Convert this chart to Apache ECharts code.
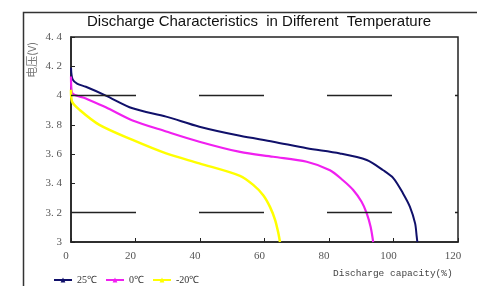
<!DOCTYPE html>
<html>
<head>
<meta charset="utf-8">
<script src="https://cdn.jsdelivr.net/npm/echarts@6/dist/echarts.min.js"></script>
<style>
    html, body { margin: 0; padding: 0; background: #fff; }
    #chart { width: 477px; height: 286px; }
</style>
</head>
<body>
<div id="chart"></div>
<script>
"use strict";

var xTicks = [0, 20, 40, 60, 80, 100, 120];
var yTicks = [3, 3.2, 3.4, 3.6, 3.8, 4, 4.2, 4.4];

// 25℃
var cap25 = [0, 0.5, 2, 4.6, 10.8, 19.1, 29.5, 39.8, 52.4, 62.7, 73.1, 83.4, 91.7, 96.8, 100, 103, 105.1, 106.7, 107.2, 107.4];
var volt25 = [4.19, 4.11, 4.08, 4.06, 4.0, 3.913, 3.856, 3.787, 3.725, 3.685, 3.64, 3.605, 3.56, 3.49, 3.435, 3.33, 3.24, 3.127, 3.036, 3.0];
// 0℃
var cap0 = [0, 0.3, 4.6, 10.8, 19.1, 29.5, 39.8, 52.4, 62.7, 73.1, 80.3, 84.4, 87.5, 90.1, 91.7, 92.9, 93.7];
var volt0 = [4.13, 4.02, 3.98, 3.92, 3.83, 3.755, 3.685, 3.615, 3.582, 3.548, 3.49, 3.42, 3.355, 3.275, 3.196, 3.104, 3.0];
// -20℃
var capM20 = [0, 0.3, 2.8, 8.8, 19.1, 29.5, 39.8, 52.4, 56.5, 59.6, 61.7, 63.3, 64.3, 64.8];
var voltM20 = [4.04, 3.96, 3.90, 3.80, 3.697, 3.605, 3.537, 3.452, 3.39, 3.32, 3.24, 3.15, 3.06, 3.0];

var gridLines = [4, 3.2];

function zip(xs, ys) {
    return xs.map(function (x, i) { return [x, ys[i]]; });
}

var chart = echarts.init(document.getElementById('chart'));
chart.setOption({
    backgroundColor: '#fff',
    animation: false,
    title: {
        text: 'Discharge Characteristics  in Different  Temperature',
        left: 82,
        top: 9,
        textStyle: {
            fontFamily: 'Liberation Sans',
            fontSize: 15,
            fontWeight: 'normal',
            color: '#111'
        }
    },
    grid: {
        left: 71,
        right: 19,
        top: 37,
        bottom: 44,
        show: true,
        borderColor: '#222',
        borderWidth: 1.5
    },
    legend: {
        left: 48,
        top: 270,
        itemWidth: 18,
        itemHeight: 6,
        itemGap: 8,
        textStyle: {
            fontFamily: 'Liberation Serif',
            fontSize: 10,
            color: '#333'
        },
        data: ['25℃', '0℃', '-20℃']
    },
    xAxis: {
        type: 'value',
        min: xTicks[0],
        max: xTicks[xTicks.length - 1],
        interval: 20,
        axisLine: { lineStyle: { color: '#222', width: 1.5 } },
        axisTick: { inside: true, length: 4, lineStyle: { color: '#222' } },
        axisLabel: {
            margin: 9,
            padding: [0, 10, 0, 0],
            fontFamily: 'Liberation Serif',
            fontSize: 11,
            color: '#555'
        },
        splitLine: { show: false }
    },
    yAxis: {
        type: 'value',
        min: yTicks[0],
        max: yTicks[yTicks.length - 1],
        interval: 0.2,
        axisLine: { show: true, lineStyle: { color: '#222', width: 1.5 } },
        axisTick: { show: true, inside: true, length: 4, lineStyle: { color: '#222' } },
        axisLabel: {
            margin: 9,
            fontFamily: 'Liberation Serif',
            fontSize: 11,
            color: '#555',
            formatter: function (v) {
                return String(Math.round(v * 10) / 10).replace('.', '. ');
            }
        },
        splitLine: { show: false }
    },
    series: [{
        name: '25℃',
        type: 'line',
        smooth: 0.3,
        color: '#10106a',
        symbol: 'triangle',
        symbolSize: 4,
        showSymbol: false,
        lineStyle: { width: 2 },
        data: zip(cap25, volt25),
        markLine: {
            silent: true,
            symbol: 'none',
            label: { show: false },
            lineStyle: { color: '#222', width: 1.3, type: [65, 63] },
            data: gridLines.map(function (v) { return { yAxis: v }; })
        }
    }, {
        name: '0℃',
        type: 'line',
        smooth: 0.3,
        color: '#f020f0',
        symbol: 'triangle',
        symbolSize: 4,
        showSymbol: false,
        lineStyle: { width: 2.2 },
        data: zip(cap0, volt0)
    }, {
        name: '-20℃',
        type: 'line',
        smooth: 0.3,
        color: '#ffff00',
        symbol: 'triangle',
        symbolSize: 4,
        showSymbol: false,
        lineStyle: { width: 2.5 },
        data: zip(capM20, voltM20)
    }],
    graphic: [{
        type: 'rect',
        left: 21,
        top: 10,
        silent: true,
        z: -1,
        shape: { width: 470, height: 290 },
        style: { fill: 'none', stroke: '#333', lineWidth: 1.5 }
    }, {
        type: 'text',
        left: 333,
        top: 268,
        style: {
            text: 'Discharge capacity(%)',
            fontFamily: 'Liberation Mono',
            fontSize: 9.5,
            fill: '#444'
        }
    }, {
        type: 'text',
        left: 26,
        top: 42,
        rotation: Math.PI / 2,
        style: {
            text: '电压(V)',
            fontFamily: 'Noto Sans CJK SC',
            fontSize: 11,
            fill: '#777'
        }
    }]
});
</script>
</body>
</html>
